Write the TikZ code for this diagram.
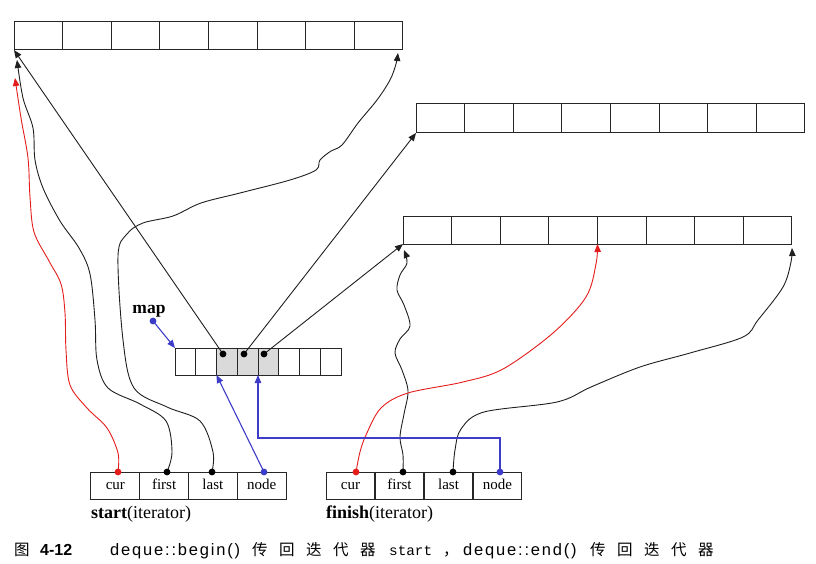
\documentclass[tikz,border=0pt]{standalone}
\usepackage{fontspec}
\setmainfont{Liberation Serif}
\newfontfamily\capsans{Liberation Sans}
\newfontfamily\capsansA[LetterSpace=11]{Liberation Sans}
\newfontfamily\capmono{Liberation Mono}
\newfontfamily\cjk{Noto Sans CJK SC}
\usetikzlibrary{arrows.meta,calc}
\definecolor{lred}{RGB}{228,28,28}
\definecolor{lblue}{RGB}{60,60,200}
\definecolor{lgray}{RGB}{218,218,218}
\newcommand{\cjksp}{\hspace{11.5pt}}
\begin{document}
\begin{tikzpicture}[x=1pt,y=-1pt,
  cell/.style={draw=black!85,line width=1pt,rectangle,inner sep=0pt,outer sep=0pt,
    minimum width=48.6pt,minimum height=28pt},
  mcell/.style={draw=black!85,line width=1pt,rectangle,inner sep=0pt,outer sep=0pt,
    minimum width=20.75pt,minimum height=27pt},
  icell/.style={draw=black!85,line width=1pt,rectangle,inner sep=0pt,outer sep=0pt,
    minimum width=48.8pt,minimum height=27pt,font=\fontsize{15}{18}\selectfont},
  arr/.style={-{Triangle[length=8pt,width=6.5pt]}},
  kline/.style={draw=black!88,line width=0.9pt},
  rline/.style={draw=lred,line width=0.9pt},
  bline/.style={draw=lblue,line width=1.1pt},
  wavy/.style={smooth,tension=0.55},
  captxt/.style={anchor=base west,inner sep=0pt}
]
\useasboundingbox (0,0) rectangle (816,564);

% buffers
\foreach \i in {1,...,8} {
  \node[cell] (t\i) at ({14+48.625*(\i-0.5)},36) {};
  \node[cell,minimum height=29pt] (u\i) at ({416+48.625*(\i-0.5)},118.5) {};
  \node[cell] (b\i) at ({403+48.625*(\i-0.5)},230) {};
}
% map
\foreach \i/\f in {1/white,2/white,3/lgray,4/lgray,5/lgray,6/white,7/white,8/white}
  \node[mcell,fill=\f] (m\i) at ({175+20.75*(\i-0.5)},361.5) {};

% iterators
\foreach \i/\t in {1/cur,2/first,3/last,4/node} {
  \node[icell] (s\i) at ({91+48.75*(\i-0.5)},485.5) {\strut\t};
  \node[icell] (f\i) at ({326+49*(\i-0.5)},485.5) {\strut\t};
}
\node[anchor=base west,inner sep=0pt] (slab) at (91,518)
  {\fontsize{18}{21}\selectfont\textbf{start}(iterator)};
\node[anchor=base west,inner sep=0pt] (flab) at (326,518)
  {\fontsize{18}{21}\selectfont\textbf{finish}(iterator)};
\node[anchor=base,inner sep=0pt] (maplab) at (149,313)
  {\fontsize{17.5}{20}\selectfont\textbf{map}};

% dot positions
\coordinate (d1) at (223,354);
\coordinate (d2) at (244,354);
\coordinate (d3) at (264,354);
\coordinate (mapdot) at (153,321);
\coordinate (sc) at (118,472);
\coordinate (sf) at (167,472);
\coordinate (sl) at (212,472);
\coordinate (sn) at (264,472);
\coordinate (fc) at (356,472);
\coordinate (ff) at (403,472);
\coordinate (fl) at (453,472);
\coordinate (fn) at (500,472);
% free ends
\coordinate (redEnd) at (15,78);
\coordinate (sfEnd) at (17,60);

% straight pointers from map
\draw[kline,arr] (d1) -- (t1.south west);
\draw[kline,arr] (d2) -- (u1.south west);
\draw[kline,arr] (d3) -- (b1.south west);

% start iterator
\draw[rline,arr] plot[wavy] coordinates {(sc) (118,453) (107,428) (87,408) (70,385) (66,350)
  (65,313) (61,284) (49,261) (34,232) (30,197) (28,158) (21,118) (redEnd)};
\draw[kline,arr] plot[wavy] coordinates {(sf) (172,452) (166,421) (140,404) (108,388) (97,360)
  (95,320) (90,274) (79,248) (60,221) (43,188) (35,160) (33,128) (23,98) (sfEnd)};
\draw[kline,arr] plot[wavy] coordinates {(sl) (213,452) (200,421) (167,407) (134,388) (123,340)
  (118,256) (127,234) (143,223) (173,216) (201,203) (240,193) (290,180) (316,170) (320,160)
  (331,151) (342,145) (358,123) (377,100) (390,80) (396,64) ($(t8.south east)+(-5,3)$)};
\draw[bline,arr] (sn) -- (m3.south west);

% finish iterator
\draw[kline,arr] plot[wavy] coordinates {(ff) (403,455) (400,437) (404,414) (408,391) (402,370)
  (395,353) (400,339) (410,326) (404,305) (397,290) (400,275) (407,263) ($(b1.south west)+(1,6)$)};
\draw[rline,arr] plot[wavy] coordinates {(fc) (360,452) (366,435) (381,408) (408,393) (463,382)
  (503,369) (553,333) (586,297) (596,264) (b4.south east)};
\draw[kline,arr] plot[wavy] coordinates {(fl) (455,450) (461,429) (484,412) (557,402) (591,387)
  (640,367) (690,353) (743,337) (758,320) (783,287) (791,262) ($(b8.south east)+(0,4)$)};
\draw[bline,arr] (fn) -- ++(0,-34) -| (m4.south east);

% map pointer
\draw[bline,arr] (mapdot) -- (m1.north west);

% dots
\foreach \p in {d1,d2,d3,sf,sl,ff,fl} \fill[black] (\p) circle (3.4);
\foreach \p in {sc,fc} \fill[lred] (\p) circle (3.4);
\foreach \p in {sn,fn,mapdot} \fill[lblue] (\p) circle (3.4);

% caption
\node[captxt] (c1) at (14,555) {\cjk\fontsize{15.5}{18}\selectfont 图};
\node[captxt] (c2) at (40,555) {\capsans\bfseries\fontsize{16}{18}\selectfont 4-12};
\node[captxt] (c3) at (110,555) {\capsansA\fontsize{16.5}{18}\selectfont deque::begin()};
\node[captxt] (c4) at (252,555) {\cjk\fontsize{15.5}{18}\selectfont 传\cjksp 回\cjksp 迭\cjksp 代\cjksp 器};
\node[captxt] (c5) at (389,555) {\capmono\fontsize{14.3}{16}\selectfont start};
\node[captxt] (c6) at (443,555) {\cjk\fontsize{15.5}{18}\selectfont ，};
\node[captxt] (c7) at (463,555) {\capsansA\fontsize{16.5}{18}\selectfont deque::end()};
\node[captxt] (c8) at (590,555) {\cjk\fontsize{15.5}{18}\selectfont 传\cjksp 回\cjksp 迭\cjksp 代\cjksp 器};
\end{tikzpicture}
\end{document}
